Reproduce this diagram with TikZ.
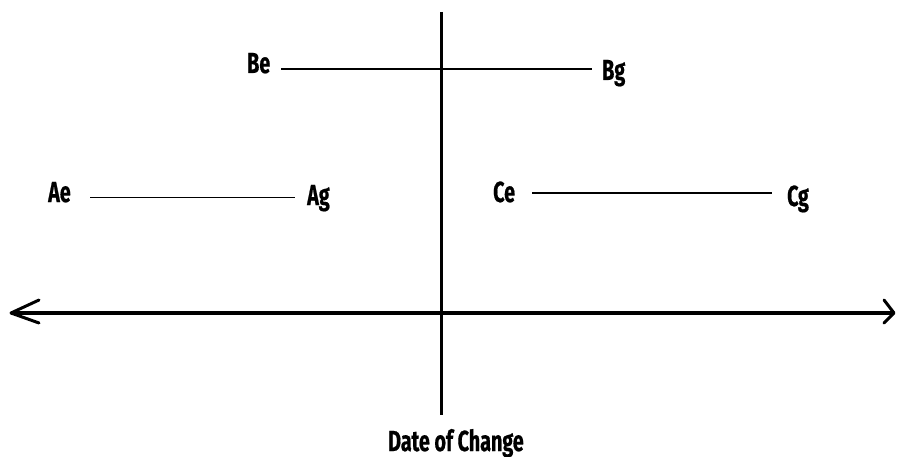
\documentclass[tikz,border=0pt]{standalone}
\usepackage{fontspec}
\newfontfamily\labfont[FakeStretch=0.68,FakeBold=0.6]{Fira Sans}
\begin{document}
\begin{tikzpicture}[x=1pt,y=-1pt,
  lab/.style={inner sep=0pt,anchor=base west,font=\labfont\bfseries\fontsize{29}{32}\selectfont,text=black},
  thinline/.style={line width=1.6pt},
  thickline/.style={line width=3.6pt},
  tipline/.style={line width=3pt,line cap=round,line join=round}]
\useasboundingbox[fill=white] (0,0) rectangle (904,457);
% labels
\node[lab] (Ae) at (48,202) {Ae};
\node[lab] (Ag) at (307,205) {Ag};
\node[lab] (Be) at (247,73) {Be};
\node[lab] (Bg) at (602,80) {Bg};
\node[lab] (Ce) at (493,202) {Ce};
\node[lab] (Cg) at (787,206) {Cg};
\node[lab] (date) at (388,451) {Date of Change};
% line ends
\coordinate (a1) at (90,197.5);
\coordinate (a2) at (295,197.5);
\coordinate (b1) at (281,69);
\coordinate (b2) at (592,69);
\coordinate (c1) at (532,193);
\coordinate (c2) at (772,193);
\coordinate (vt) at (441.5,12);
\coordinate (vb) at (441.5,415);
\coordinate (hl) at (11,313);
\coordinate (hr) at (894,313);
\draw[thinline] (a1) -- (a2);
\draw[thinline] (b1) -- (b2);
\draw[thinline] (c1) -- (c2);
\draw[thickline] (vt) -- (vb);
\draw[thickline] (hl) -- (hr);
% open arrow heads
\draw[tipline] (39,300) -- (hl) -- (39,323);
\draw[tipline] (884,300) -- (hr) -- (884,323);
\end{tikzpicture}
\end{document}
